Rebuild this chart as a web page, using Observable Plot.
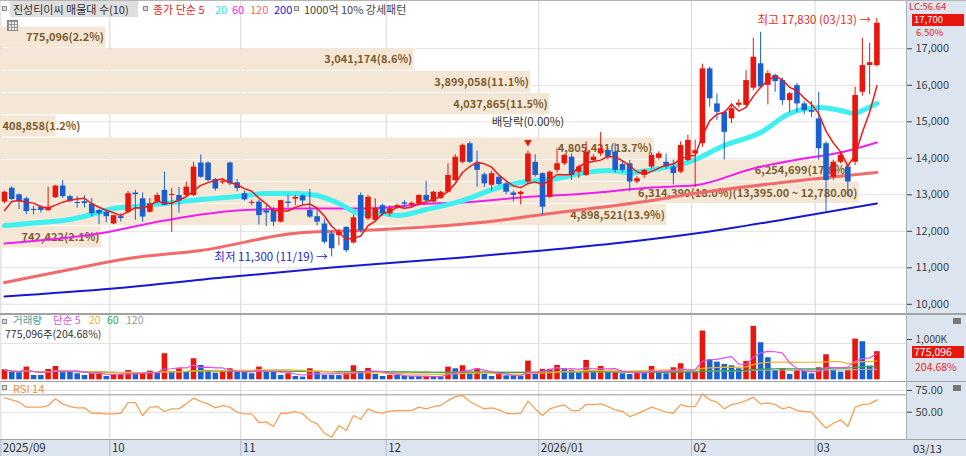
<!DOCTYPE html>
<html><head><meta charset="utf-8">
<script src="https://cdn.jsdelivr.net/npm/d3@7"></script>
<script src="https://cdn.jsdelivr.net/npm/@observablehq/plot@0.6"></script>
<style>
body{margin:0;background:#fff;font-family:"Noto Sans CJK KR","Noto Sans",sans-serif;}
#wrap{position:relative;width:966px;height:456px;overflow:hidden;background:#fff;}
.layer{position:absolute;left:0;}
.lbl{position:absolute;white-space:nowrap;font-size:11px;line-height:12px;}
.sm{font-size:10.5px;line-height:10px;}
.xs{font-size:9.5px;line-height:9px;}
.box{position:absolute;}
</style></head><body><div id="wrap"></div>
<script>
// ---------------- DATA ----------------
const opens = [12800,13180,13000,12890,12600,12660,12570,12920,13240,12950,
12790,12810,12750,12570,12520,12200,12400,12520,13050,12890,
12520,12800,13120,12980,12980,12980,12980,13870,13870,13420,
13330,13870,13330,13030,12760,12800,12560,12570,12250,12800,
12880,12970,12570,12400,12200,11930,11880,12110,11680,12980,
12340,12300,12700,12480,12650,12780,12720,12750,12980,12800,
12900,13070,13390,13890,14400,13850,13550,13260,13480,13300,
13050,13010,13350,13890,13580,12930,13670,13850,14030,13620,
13530,13940,14120,14210,14170,13830,13850,13350,13530,13760,
14000,13890,13760,13620,13940,14120,14400,16450,15490,15260,
15080,15450,15450,15920,16590,16000,16270,16130,15580,15990,
15490,15310,15080,14400,13480,13890,13760,13890,15810,16540,
16540];
const highs = [13100,13220,13020,12940,12680,12700,13210,13260,13390,12990,
12950,12970,12900,12600,12580,12430,12480,13090,13120,13050,
12900,13050,13620,13170,13200,13350,13890,14090,13900,13450,
13450,13900,13420,13100,12850,12850,12700,12650,12850,12980,
12980,13000,13150,12600,12320,12000,12060,12120,12450,13050,
12980,12890,12750,12700,12750,12840,12800,13000,13370,13100,
13100,13850,14100,14390,14450,14200,13600,13650,13520,13350,
13100,13100,14200,14100,13600,13650,14260,14100,14120,13800,
14450,14100,14710,14260,14400,13900,13950,13500,13700,14150,
14180,14120,13950,14450,14630,14500,16580,16500,15760,15300,
15500,15600,16400,17290,17450,16400,16300,16200,15800,16050,
15550,15560,15810,14450,13950,14150,13800,15950,17290,17150,
17830];
const lows = [12750,12840,12600,12450,12450,12500,12540,12900,12900,12780,
12640,12640,12400,12180,12230,12180,12250,12480,12300,12250,
12500,12750,12700,11970,12500,12950,12950,13450,13350,13100,
13280,13250,13080,12830,12700,12170,12130,12130,12230,12650,
12700,12700,12350,12150,11650,11300,11600,11420,11650,11950,
12300,12250,12420,12400,12600,12630,12650,12720,12800,12780,
12880,13050,13350,13850,13850,13210,13200,13100,13250,13000,
12800,12720,13300,13480,12450,12900,13600,13800,13390,13450,
13500,13900,14050,13950,13600,13600,13080,13300,13450,13700,
13950,13700,13270,13580,13900,13200,14300,15400,15040,13950,
14950,15380,15400,15850,15900,15460,15810,15450,15250,15250,
15200,15120,13950,12520,13400,13850,12950,13800,15700,15750,
16500];
const closes = [13070,12870,12810,12540,12570,12570,12660,13240,12950,12820,
12760,12760,12480,12480,12400,12430,12350,13030,13000,12390,
12750,12980,12710,13010,12830,13210,13760,13480,13390,13160,
13360,13300,13170,12860,12790,12430,12500,12250,12840,12760,
12930,12830,12390,12250,11700,11520,11970,11470,12370,12020,
12930,12620,12480,12620,12700,12740,12770,12980,12830,13070,
13070,13530,14030,14350,13890,13670,13300,13580,13280,13070,
12980,13070,14120,13530,12660,13620,13850,14080,13530,13760,
14170,14030,14260,14030,13670,13670,13350,13440,13670,14080,
14120,13760,13580,14350,14490,14210,16450,15630,15260,14710,
15360,15510,16130,16770,15950,16320,16100,15580,15770,15490,
15310,15260,14260,13390,13890,14080,13350,15720,16540,16620,
17700];
const volumes = [276000,202000,198000,350000,120000,118000,285000,368000,212000,208000,
166000,120000,184000,212000,92000,147000,150000,258000,166000,170000,
240000,184000,718000,212000,304000,212000,580000,396000,258000,184000,
212000,304000,212000,208000,166000,350000,212000,208000,120000,166000,
92000,74000,304000,212000,120000,118000,116000,184000,386000,184000,
313000,147000,92000,120000,118000,92000,90000,88000,95000,92000,
74000,350000,304000,386000,184000,304000,147000,92000,147000,110000,
108000,92000,515000,184000,285000,290000,396000,304000,258000,184000,
534000,212000,368000,212000,215000,166000,147000,212000,208000,368000,
212000,166000,331000,442000,212000,215000,1343000,552000,488000,423000,
386000,304000,506000,1472000,1021000,607000,258000,304000,147000,258000,
240000,166000,331000,690000,258000,212000,258000,1122000,1049000,378690,
775096];
const rsi14 = [66.5,64.2,61.5,55.8,55.8,55.8,57.7,65.4,59.6,56.5,
55.0,55.0,48.8,48.8,48.1,48.1,48.8,61.1,61.1,46.2,
55.8,56.5,50.8,53.8,53.8,59.6,66.1,62.3,59.6,55.0,
57.7,55.8,50.0,48.1,48.1,38.1,38.9,33.5,48.8,48.8,
50.8,48.1,40.4,36.6,25.8,21.2,34.6,28.9,46.2,41.9,
53.8,50.0,48.8,51.2,51.9,51.9,51.9,55.8,53.8,56.5,
57.7,63.4,68.0,69.2,62.3,57.7,53.8,55.0,52.7,48.8,
48.1,48.8,62.7,53.8,46.2,53.8,56.5,58.4,51.9,51.9,
58.8,58.8,59.6,56.5,52.7,50.8,45.0,48.1,51.9,55.8,
53.1,50.0,48.8,58.8,56.5,56.5,71.1,64.2,61.5,53.8,
58.8,60.4,63.4,67.3,59.6,60.8,58.8,53.8,55.8,51.9,
50.8,50.0,40.4,31.6,37.3,41.2,33.5,55.8,58.8,59.6,
64.2];
// moving averages: [candle index, price]
const ma5Head = [12570, 12816, 12843, 12797];
const ma20 = [[0,12158],[5,12241],[9,12323],[12,12460],[15,12624],[18,12680],[22,12761],[27,12871],[32,12953],[36,13035],[40,13035],[43,12981],[46,12761],[49,12487],[52,12487],[54,12432],[58,12597],[63,12843],[68,13200],[71,13337],[76,13446],[80,13611],[83,13666],[86,13611],[90,13720],[94,13885],[99,14350],[104,14707],[108,15227],[112,15392],[115,15310],[117,15227],[118,15310],[120,15501]];
const ma60 = [[0,11665],[13,11939],[22,12295],[32,12569],[41,12624],[49,12624],[59,12761],[63,12789],[71,12926],[80,13035],[89,13200],[95,13260],[103,13720],[110,13994],[115,14159],[120,14433]];
const ma120 = [[0,10597],[9,10953],[17,11254],[27,11474],[41,11967],[49,12022],[68,12296],[74,12460],[89,12844],[94,13008],[107,13337],[120,13611]];
const ma200 = [[0,10213],[15,10432],[30,10734],[45,11008],[63,11282],[74,11473],[85,11692],[96,11966],[108,12350],[120,12761]];
// volume profile (매물대)
const profileVolumes = [775096,3041174,3899058,4037865,408858,4805421,6254699,6314390,4898521,742422];
const profileEdges = [17611,17003,16394,15786,15178,14570,13961,13353,12745,12137,11528];
const maxBandRange = "(13,395.00 ~ 12,780.00)";
// axis labels / categories
const monthLabels = ["2025/09","10","11","12","2026/01","02","03"];
const monthStart = [0,15,33,53,74,95,112];
const priceTicks = [10000,11000,12000,13000,14000,15000,16000,17000];
const highDate = "03/13", lowDate = "11/19";
const exDivIndex = 72;
const lastDate = "03/13";

// ---------------- CHART ----------------
const wrap = document.getElementById("wrap");
const W = 966, PR = 60;
const xDomain = [-0.55, 124.07];
const UP = "#e8160c", DOWN = "#1a5fd0";
const FONT = "'Noto Sans CJK KR','Noto Sans',sans-serif";
const fmt = d3.format(",");
const idx = d3.range(closes.length);
const candles = idx.map(i => ({i, o: opens[i], h: highs[i], l: lows[i], c: closes[i]}));
const ma5 = idx.map(i => [i, i < 4 ? ma5Head[i] : d3.mean(closes.slice(i - 4, i + 1))]);
const vols = idx.map(i => ({i, v: volumes[i], up: i === 0 || volumes[i] >= volumes[i - 1]}));
const rsiData = idx.map(i => ({i, r: rsi14[i]}));

function base(h, extra) {
  return Object.assign({width: W, height: h, marginLeft: 0, marginRight: PR, marginTop: 0, marginBottom: 0,
    style: {background: "transparent", overflow: "visible", fontFamily: FONT, fontSize: "11px", color: "#444"},
    color: {type: "identity"}}, extra);
}
function put(el, top) { el.classList.add("layer"); el.style.top = top + "px"; wrap.appendChild(el); }
function box(left, top, w, h, bg, extra) { const d = document.createElement("div"); d.className = "box"; d.style.cssText = `left:${left}px;top:${top}px;width:${w}px;height:${h}px;background:${bg};` + (extra || ""); wrap.appendChild(d); return d; }
function lbl(txt, left, top, color, cls) { const d = document.createElement("div"); d.className = "lbl" + (cls ? " " + cls : ""); d.style.left = left + "px"; d.style.top = top + "px"; d.style.color = color; d.textContent = txt; wrap.appendChild(d); return d; }
function sq(left, top) { box(left, top, 5, 5, "#d8d8d8", "border:1px solid #8a8a8a;box-sizing:border-box;"); }

// backgrounds
box(906, 0, 60, 440, "#dbe4ef");
box(0, 440, 966, 16, "#dbe4ef");

const yMain = {domain: [9748, 18323], axis: null};
const monthX = d => d - 0.5;

// grid layer
put(Plot.plot(base(313, {x: {domain: xDomain, axis: null}, y: yMain, marks: [
  Plot.ruleY(priceTicks, {stroke: "#e2e2e2"}),
  Plot.ruleX(monthStart, {x: monthX, stroke: "#d6d6d6"})
]})), 0);

// volume profile layer
const profTotal = d3.sum(profileVolumes), profMax = d3.max(profileVolumes);
const bands = profileVolumes.map((v, k) => ({v, hi: profileEdges[k], lo: profileEdges[k + 1],
  label: fmt(v) + "(" + d3.format(".1f")(v / profTotal * 100) + "%)" + (v === profMax ? maxBandRange : "")}));
const shortBand = d => d.v < profMax * 0.1;
put(Plot.plot(base(313, {x: {domain: [0, 6660000], axis: null}, y: yMain, marks: [
  Plot.rectX(bands, {x1: () => 0, x2: "v", y1: "lo", y2: "hi", fill: "#f5e7d6", insetTop: 0.5, insetBottom: 0.5}),
  Plot.text(bands, {filter: d => !shortBand(d), x: "v", y: d => (d.lo + d.hi) / 2, text: "label", textAnchor: "end", dx: -2, fill: "#7d5d2d", fontWeight: "bold", fontSize: 11}),
  Plot.text(bands, {filter: shortBand, x: () => 0, y: d => (d.lo + d.hi) / 2, text: "label", textAnchor: "start", dx: 2, fill: "#7d5d2d", fontWeight: "bold", fontSize: 11})
]})), 0);

// price layer
const hiI = d3.maxIndex(highs), loI = d3.minIndex(lows);
put(Plot.plot(base(313, {x: {domain: xDomain, axis: null}, y: {domain: yMain.domain}, marks: [
  Plot.line(ma200, {x: d => d[0], y: d => d[1], stroke: "#1818d0", strokeWidth: 2, curve: "monotone-x"}),
  Plot.line(ma120, {x: d => d[0], y: d => d[1], stroke: "#f26a6a", strokeWidth: 3, curve: "monotone-x"}),
  Plot.line(ma60, {x: d => d[0], y: d => d[1], stroke: "#ee1fee", strokeWidth: 2, curve: "monotone-x"}),
  Plot.line(ma20, {x: d => d[0], y: d => d[1], stroke: "#3ef0f0", strokeWidth: 5, curve: "monotone-x"}),
  Plot.ruleX(candles, {x: "i", y1: "l", y2: "h", stroke: d => d.c >= d.o ? UP : DOWN, strokeWidth: 1}),
  Plot.ruleX(candles, {x: "i", y1: "o", y2: "c", stroke: d => d.c >= d.o ? UP : DOWN, strokeWidth: 5.6}),
  Plot.line(ma5, {x: d => d[0], y: d => d[1], stroke: "#f01818", strokeWidth: 1.5}),
  Plot.text([hiI], {x: d => d, y: d => highs[d], text: d => `최고 ${fmt(highs[d])} (${highDate}) →`, textAnchor: "end", dx: -6, dy: 2, fill: "#e8281e", fontSize: 11.5}),
  Plot.text([loI], {x: d => d, y: d => lows[d], text: d => `최저 ${fmt(lows[d])} (${lowDate}) →`, textAnchor: "end", dx: -4, fill: "#2424c8", fontSize: 11.5}),
  Plot.text([exDivIndex], {x: d => d, y: d => highs[d], text: () => "배당락(0.00%)", dy: -29, fill: "#333", fontSize: 11.5}),
  Plot.text([exDivIndex], {x: d => d, y: d => highs[d], text: () => "▼", dy: -8, fill: "#e8160c", fontSize: 8}),
  Plot.axisY({anchor: "right", ticks: priceTicks, tickFormat: d3.format(","), tickSize: 5, tickPadding: 4, label: null, fontSize: 11})
]})), 0);

// volume layer
put(Plot.plot(base(66, {x: {domain: xDomain, axis: null}, y: {domain: [-46800, 1771000]}, marks: [
  Plot.ruleX(monthStart, {x: monthX, stroke: "#d6d6d6"}),
  Plot.ruleY([1000000], {stroke: "#e2e2e2"}),
  Plot.ruleX(vols, {x: "i", y1: 0, y2: "v", stroke: d => d.up ? UP : DOWN, strokeWidth: 5.6}),
  Plot.lineY(vols, Plot.windowY({k: 120, anchor: "end"}, {x: "i", y: "v", stroke: "#a8a8a8", strokeWidth: 1.2})),
  Plot.lineY(vols, Plot.windowY({k: 60, anchor: "end"}, {x: "i", y: "v", stroke: "#32a64a", strokeWidth: 1.2})),
  Plot.lineY(vols, Plot.windowY({k: 20, anchor: "end"}, {x: "i", y: "v", stroke: "#f2b21e", strokeWidth: 1.2})),
  Plot.lineY(vols, Plot.windowY({k: 5, anchor: "end"}, {x: "i", y: "v", stroke: "#e24fe2", strokeWidth: 1.2})),
  Plot.axisY({anchor: "right", ticks: [1000000], tickFormat: d => fmt(d / 1000) + "K", tickSize: 5, tickPadding: 4, label: null, fontSize: 10, dy: -4})
]})), 315);

// RSI layer
put(Plot.plot(base(58, {x: {domain: xDomain, axis: null}, y: {domain: [17.4, 84.2]}, marks: [
  Plot.ruleX(monthStart, {x: monthX, stroke: "#d6d6d6"}),
  Plot.ruleY([75, 50], {stroke: "#e0e0e0"}),
  Plot.ruleY([70], {stroke: "#9a9a9a"}),
  Plot.line(rsiData, {x: "i", y: "r", stroke: "#f7a057", strokeWidth: 1.3}),
  Plot.axisY({anchor: "right", ticks: [50, 75], tickFormat: d3.format(".2f"), tickSize: 5, tickPadding: 4, label: null, fontSize: 11})
]})), 382);

// x strip
put(Plot.plot(base(16, {x: {domain: xDomain, axis: null}, marks: [
  Plot.ruleX(monthStart, {x: monthX, stroke: "#b0b9c8"}),
  Plot.text(monthStart, {x: monthX, text: (d, i) => monthLabels[i], textAnchor: "start", dx: 2, fill: "#333", fontSize: 11.5})
]})), 440);

// borders
box(0, 0, 966, 1, "#b5b5b5");
box(0, 313, 966, 2, "#a2a2a2");
box(0, 381, 966, 1, "#a2a2a2");
box(0, 439, 966, 1, "#a2a2a2");
box(906, 0, 1, 440, "#a8b0bc");

// legends (main)
sq(2, 6);
box(10, 1, 128, 16, "#dedede");
lbl("진성티이씨 매물대 수(10)", 13, 3, "#333");
sq(143, 6);
lbl("종가 단순 5", 153, 3, "#f01818");
lbl("20", 215, 3, "#2ee8e8");
lbl("60", 232, 3, "#ee1fee");
lbl("120", 250, 3, "#f26a6a");
lbl("200", 274, 3, "#1818d0");
sq(294, 6);
lbl("1000억 10% 강세패턴", 304, 3, "#444");
box(7, 20, 11, 11, "#eee", "border:1px solid #888;box-sizing:border-box;background-image:linear-gradient(#999 1px,transparent 1px),linear-gradient(90deg,#999 1px,transparent 1px);background-size:3px 3px;");
// right axis info (main)
lbl("LC:56.64", 909, 2, "#e8281e", "xs");
box(912, 14, 52, 12, "#e8160c");
lbl(fmt(closes[closes.length - 1]), 914, 15, "#fff", "xs");
lbl(d3.format(".2f")((closes[120] / closes[119] - 1) * 100) + "%", 916, 28, "#e8281e", "xs");
// volume legends
sq(2, 319);
lbl("거래량", 13, 315, "#3a9fa0", "sm");
lbl("단순 5", 53, 315, "#e24fe2", "sm");
lbl("20", 89, 315, "#f2b21e", "sm");
lbl("60", 107, 315, "#32a64a", "sm");
lbl("120", 126, 315, "#999", "sm");
lbl(fmt(volumes[120]) + "주(" + d3.format(".2f")(volumes[120] / volumes[119] * 100) + "%)", 5, 329, "#333", "sm");
box(912, 346, 52, 12, "#e8160c");
lbl(fmt(volumes[120]), 914, 347, "#fff", "sm");
lbl(d3.format(".2f")(volumes[120] / volumes[119] * 100) + "%", 915, 362, "#e8281e", "sm");
box(953, 318, 8, 6, "#777");
// RSI legend
sq(2, 385);
lbl("RSI 14", 13, 382, "#f08a3c");
box(953, 385, 8, 6, "#777");
// x strip right
lbl(lastDate, 913, 442, "#333");
</script></body></html>
